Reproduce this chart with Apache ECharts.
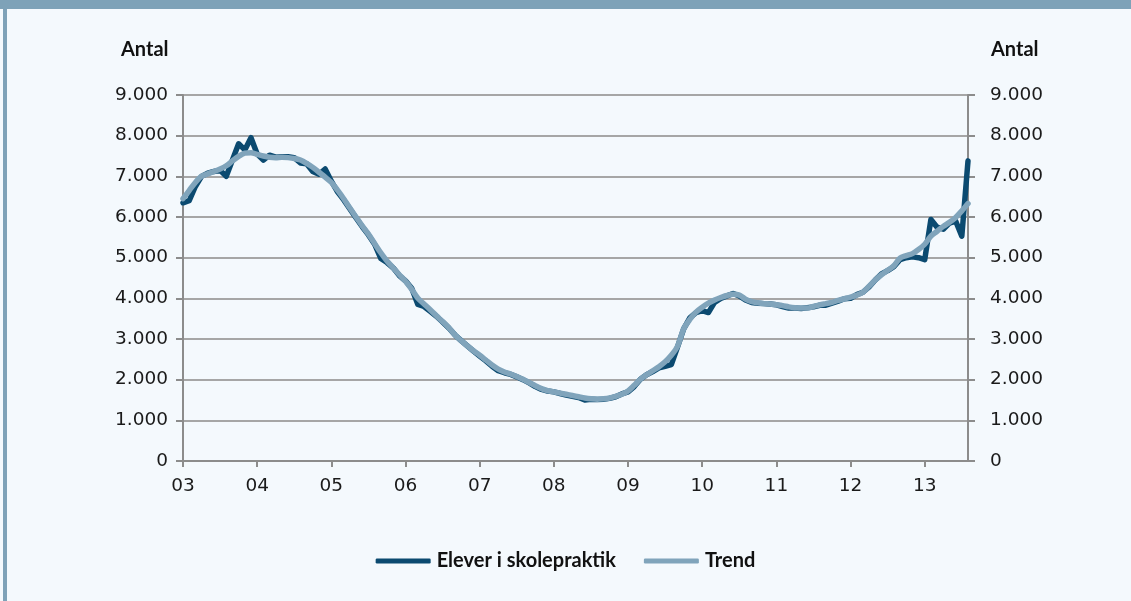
<!DOCTYPE html>
<html>
<head>
<meta charset="utf-8">
<script src="https://cdn.jsdelivr.net/npm/echarts@6/dist/echarts.min.js"></script>
<style>
  html, body { margin: 0; padding: 0; background: #f4f9fd; }
  #chart { width: 1131px; height: 601px; }
</style>
</head>
<body>
<div id="chart"></div>
<script>
// year labels on the x axis, one per January
const yearLabels = ['03', '04', '05', '06', '07', '08', '09', '10', '11', '12', '13'];
// months Jan 2003 .. Aug 2013
const months = [];
yearLabels.forEach(y => {
  for (let m = 1; m <= 12; m++) months.push(y + '-' + (m < 10 ? '0' + m : m));
});
months.length = 128;

// Elever i skolepraktik, monthly
const elever = [
  6350, 6400, 6750, 7000, 7080, 7120, 7150, 7000, 7400, 7800, 7650, 7950,
  7550, 7400, 7520, 7470, 7480, 7480, 7460, 7330, 7310, 7120, 7050, 7180,
  6880, 6620, 6420, 6200, 5980, 5760, 5560, 5330, 4980, 4880, 4750, 4560,
  4430, 4250, 3850, 3800, 3680, 3560, 3420, 3270, 3100, 2960, 2830, 2700,
  2580, 2460, 2330, 2220, 2170, 2130, 2070, 2000, 1920, 1830, 1760, 1720,
  1700, 1660, 1620, 1590, 1560, 1500, 1520, 1510, 1520, 1540, 1580, 1650,
  1700, 1830, 2010, 2120, 2200, 2290, 2330, 2370, 2800, 3250, 3520, 3650,
  3700, 3650, 3900, 4000, 4060, 4120, 4060, 3960, 3900, 3880, 3870, 3860,
  3840, 3800, 3760, 3760, 3750, 3770, 3790, 3830, 3830, 3880, 3930, 3990,
  4000, 4090, 4150, 4280, 4450, 4600, 4680, 4780, 4950, 5000, 5020, 5000,
  4950, 5940, 5750, 5700, 5850, 5900, 5530, 7380
];

// Trend, monthly
const trend = [
  6450, 6650, 6850, 7000, 7060, 7120, 7180, 7260, 7380, 7490, 7570, 7580,
  7540, 7500, 7470, 7460, 7470, 7460, 7440, 7400, 7320, 7220, 7100, 6980,
  6850, 6660, 6450, 6220, 6000, 5780, 5580, 5350, 5120, 4920, 4750, 4580,
  4420, 4220, 4000, 3860, 3720, 3570, 3430, 3280, 3100, 2960, 2830, 2710,
  2600, 2480, 2360, 2260, 2190, 2140, 2080, 2010, 1930, 1850, 1780, 1730,
  1700, 1670, 1640, 1610, 1580, 1550, 1530, 1520, 1530, 1550, 1590, 1640,
  1720, 1860, 2010, 2120, 2220, 2320, 2440, 2600, 2820, 3250, 3480, 3660,
  3780, 3880, 3960, 4020, 4070, 4100, 4080, 3980, 3920, 3890, 3870, 3860,
  3840, 3820, 3790, 3770, 3760, 3760, 3800, 3840, 3870, 3900, 3950, 3990,
  4030, 4080, 4150, 4300, 4450, 4580, 4690, 4800, 4990, 5050, 5100, 5200,
  5330, 5530, 5650, 5770, 5870, 5990, 6150, 6330
];

const chart = echarts.init(document.getElementById('chart'));
const fmt = v => v === 0 ? '0' : v.toLocaleString('da-DK');
const txt = { color: '#1a1a1a', fontFamily: 'DejaVu Sans', fontSize: 18.5 };
const everyYear = i => i % 12 === 0;

const yAxisBase = {
  type: 'value', min: 0, max: 9000, interval: 1000,
  axisLine: { show: true, lineStyle: { color: '#8c8c8c', width: 2 } },
  axisTick: { show: true, length: 7, lineStyle: { color: '#8c8c8c', width: 2 } },
};

chart.setOption({
  backgroundColor: '#f4f9fd',
  animation: false,
  grid: { left: 183, right: 163, top: 95, bottom: 140 },
  graphic: [
    { type: 'rect', shape: { x: 0, y: 0, width: 1131, height: 9 }, style: { fill: '#7ea2b8' } },
    { type: 'rect', shape: { x: 3, y: 0, width: 4, height: 601 }, style: { fill: '#7ea2b8' } },
    { type: 'text', left: 121, top: 40, style: { text: 'Antal', font: 'bold 20px Lato', fill: '#111' } },
    { type: 'text', left: 991, top: 40, style: { text: 'Antal', font: 'bold 20px Lato', fill: '#111' } }
  ],
  legend: {
    bottom: 25, left: 'center', itemWidth: 55, itemHeight: 5, itemGap: 28,
    icon: 'roundRect',
    textStyle: { fontFamily: 'Lato', fontWeight: 'bold', fontSize: 20, color: '#111', padding: [0, 0, 0, 1] },
    data: ['Elever i skolepraktik', 'Trend']
  },
  xAxis: {
    type: 'category', data: months, boundaryGap: false,
    axisLine: { lineStyle: { color: '#8c8c8c', width: 2 } },
    axisTick: { interval: i => everyYear(i), length: 6, lineStyle: { color: '#8c8c8c', width: 2 } },
    axisLabel: Object.assign({ interval: i => everyYear(i), margin: 16, formatter: v => v.slice(0, 2) }, txt),
    splitLine: { show: false }
  },
  yAxis: [
    Object.assign({}, yAxisBase, {
      position: 'left',
      axisLabel: Object.assign({ margin: 15, formatter: fmt }, txt),
      splitLine: { show: true, lineStyle: { color: '#a6a6a6', width: 2 } }
    }),
    Object.assign({}, yAxisBase, {
      position: 'right',
      axisLabel: Object.assign({ margin: 22, formatter: fmt }, txt),
      splitLine: { show: false }
    })
  ],
  series: [
    {
      name: 'Elever i skolepraktik', type: 'line', data: elever, showSymbol: false,
      lineStyle: { color: '#0b4a70', width: 5.5, cap: 'round', join: 'round' },
      itemStyle: { color: '#0b4a70' }
    },
    {
      name: 'Trend', type: 'line', data: trend, showSymbol: false, smooth: 0.3,
      lineStyle: { color: '#80a4bb', width: 5.5, cap: 'round', join: 'round' },
      itemStyle: { color: '#80a4bb' }
    }
  ]
});
</script>
</body>
</html>
